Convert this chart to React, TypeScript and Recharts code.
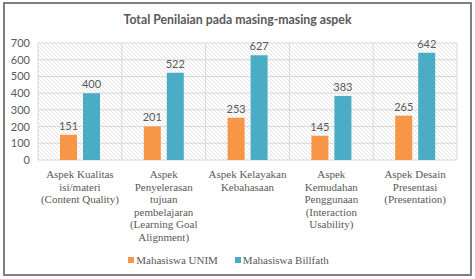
import React from 'react';
import { BarChart, Bar, XAxis, YAxis, CartesianGrid, Legend, LabelList } from 'recharts';

// categories (line breaks as in the source chart)
const categories = [
  'Aspek Kualitas\nisi/materi\n(Content Quality)',
  'Aspek\nPenyelerasan\ntujuan\npembelajaran\n(Learning Goal\nAlignment)',
  'Aspek Kelayakan\nKebahasaan',
  'Aspek\nKemudahan\nPenggunaan\n(Interaction\nUsability)',
  'Aspek Desain\nPresentasi\n(Presentation)',
];
const unimValues = [151, 201, 253, 145, 265];
const billfathValues = [400, 522, 627, 383, 642];
const yTicks = [0, 100, 200, 300, 400, 500, 600, 700];

const seriesNames = ['Mahasiswa UNIM', 'Mahasiswa Billfath'];
const colors = ['#F79646', '#4BACC6'];

const data = categories.map((c, i) => ({
  name: c,
  unim: unimValues[i],
  billfath: billfathValues[i],
}));

const W = 475;
const H = 279;
const textGray = '#595959';
const serif = '"Liberation Serif", "DejaVu Serif", serif';
const sans = 'Lato, "Noto Sans", sans-serif';

const CategoryTick = (props: any) => {
  const { x, y, payload } = props;
  const lines = String(payload.value).split('\n');
  return (
    <text x={x} y={y} textAnchor="middle" fill={textGray} fontFamily={serif} fontSize={11}>
      {lines.map((l, i) => (
        <tspan key={i} x={x} dy={i === 0 ? 10 : 12.5}>{l}</tspan>
      ))}
    </text>
  );
};

const ValueTick = (props: any) => {
  const { x, y, payload } = props;
  return (
    <text x={x} y={y} dy={4} textAnchor="end" fill={textGray} fontFamily={sans} fontSize={11}>
      {String(payload.value)}
    </text>
  );
};

const LegendContent = () => (
  <div style={{ display: 'flex', justifyContent: 'center', alignItems: 'center', height: 16, fontFamily: serif, fontSize: 11, color: textGray }}>
    {seriesNames.map((n, i) => (
      <span key={n} style={{ display: 'flex', alignItems: 'center', marginRight: i === 0 ? 17 : 0 }}>
        <span style={{ display: 'inline-block', width: 6, height: 6, background: colors[i], marginRight: 2 }} />
        {n}
      </span>
    ))}
  </div>
);

// grid lines sit on category boundaries, not on category centres
const boundaryLines = ({ offset }: any) =>
  categories.map((_, i) => offset.left + (i * offset.width) / categories.length).concat(offset.left + offset.width);

export default function App() {
  return (
    <div style={{ position: 'absolute', left: 0, top: 0, width: W, height: H, background: '#fff' }}>
      <div style={{ position: 'absolute', left: 3, top: 2, width: 465, height: 270, border: '2px solid #808080' }} />
      <div style={{ position: 'absolute', left: 0, top: 12, width: W, textAlign: 'center', fontFamily: sans, fontWeight: 700, fontSize: 12.3, color: textGray }}>
        Total Penilaian pada masing-masing aspek
      </div>
      <BarChart width={W} height={H} data={data} margin={{ top: 43, right: 18, bottom: 11, left: 0 }} barSize={17} barGap={6}>
        <defs>
          <pattern id="hatch" width="4" height="4" patternUnits="userSpaceOnUse">
            <rect width="4" height="4" fill="#ffffff" />
            <path d="M-1,-1 L5,5 M-1,3 L1,5 M3,-1 L5,1" stroke="#e4e4e4" strokeWidth="1" />
          </pattern>
        </defs>
        <CartesianGrid fill="url(#hatch)" stroke="#d9d9d9" verticalCoordinatesGenerator={boundaryLines} />
        <XAxis dataKey="name" interval={0} axisLine={false} tickLine={false} height={92} tick={<CategoryTick />} />
        <YAxis domain={[0, 700]} ticks={yTicks} interval={0} width={38} axisLine={false} tickLine={false}
          tick={<ValueTick />} />
        <Legend verticalAlign="bottom" height={16} content={<LegendContent />} />
        <Bar dataKey="unim" name={seriesNames[0]} fill={colors[0]} isAnimationActive={false}>
          <LabelList dataKey="unim" position="top" fill={textGray} fontSize={11} fontFamily={sans} />
        </Bar>
        <Bar dataKey="billfath" name={seriesNames[1]} fill={colors[1]} isAnimationActive={false}>
          <LabelList dataKey="billfath" position="top" fill={textGray} fontSize={11} fontFamily={sans} />
        </Bar>
      </BarChart>
    </div>
  );
}
